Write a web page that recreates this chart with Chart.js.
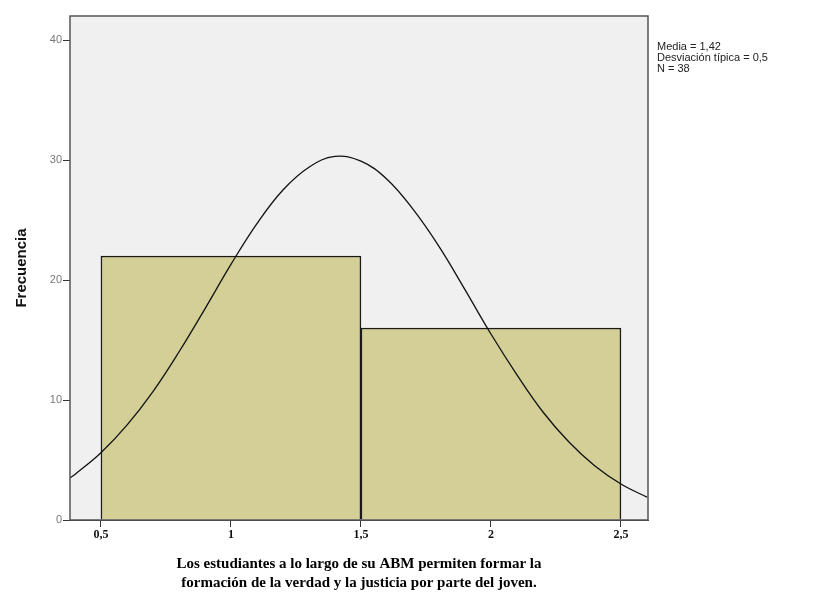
<!DOCTYPE html>
<html>
<head>
<meta charset="utf-8">
<script src="https://cdn.jsdelivr.net/npm/chart.js@4/dist/chart.umd.min.js"></script>
<style>
  body { margin: 0; background: #fff; }
  #wrap { width: 814px; height: 596px; }
</style>
</head>
<body>
<div id="wrap"><canvas id="histChart"></canvas></div>
<script>
// histogram bins (centres) and counts
const binCentres = [1, 2];
const binCounts = [22, 16];

// fitted normal curve
const curveX = [0.38, 0.4, 0.5, 0.6, 0.7, 0.8, 0.9, 1.0, 1.1, 1.2, 1.3, 1.4, 1.5,
                1.6, 1.7, 1.8, 1.9, 2.0, 2.1, 2.2, 2.3, 2.4, 2.5, 2.6];
const curveY = [3.5, 3.8, 5.6, 7.9, 10.7, 14.0, 17.6, 21.3, 24.7, 27.5, 29.4, 30.3, 29.9,
                28.4, 25.9, 22.8, 19.2, 15.5, 12.1, 9.0, 6.5, 4.5, 3.0, 1.9];

// axis ticks
const xTicks = [0.5, 1, 1.5, 2, 2.5];
const xTickLabels = ["0,5", "1", "1,5", "2", "2,5"];
const yTicks = [0, 10, 20, 30, 40];

const statsText = ["Media = 1,42", "Desviación típica = 0,5", "N = 38"];
const xTitle = ["Los estudiantes a lo largo de su ABM permiten formar la",
                "formación de la verdad y la justicia por parte del joven."];

const X_MIN = 0.381, X_MAX = 2.604;

/* plot background, frame and stats box */
const frame = {
    id: "frame",
    beforeDatasetsDraw(chart) {
        const a = chart.chartArea, ctx = chart.ctx;
        ctx.save();
        ctx.fillStyle = "#f0f0f0";
        ctx.fillRect(a.left, a.top, a.right - a.left, a.bottom - a.top);
        ctx.restore();
    },
    afterDraw(chart) {
        const a = chart.chartArea, ctx = chart.ctx;
        ctx.save();
        ctx.strokeStyle = "#555";
        ctx.lineWidth = 1.5;
        ctx.strokeRect(a.left, a.top, a.right - a.left, a.bottom - a.top);
        ctx.fillStyle = "#222";
        ctx.font = "11px 'Liberation Sans', Arial, sans-serif";
        ctx.textBaseline = "middle";
        statsText.forEach((t, i) => ctx.fillText(t, a.right + 9, 47 + i * 11));
        ctx.restore();
    }
};

new Chart(document.getElementById("histChart"), {
    data: {
        datasets: [{
            type: "line",
            xAxisID: "x",
            data: curveX.map((x, i) => ({x: x, y: curveY[i]})),
            borderColor: "#111",
            borderWidth: 1.3,
            pointRadius: 0,
            tension: 0.4,
            fill: false,
            order: 0
        }, {
            type: "bar",
            xAxisID: "xb",
            data: binCentres.map((x, i) => ({x: x, y: binCounts[i]})),
            backgroundColor: "#d3cf97",
            borderColor: "#1a1a1a",
            borderWidth: 1.5,
            grouped: false,
            barPercentage: 1,
            categoryPercentage: 1,
            order: 1
        }]
    },
    options: {
        responsive: true,
        maintainAspectRatio: false,
        animation: false,
        layout: { padding: { top: 16, right: 166, left: 0, bottom: 0 } },
        plugins: { legend: { display: false }, tooltip: { enabled: false } },
        scales: {
            x: {
                type: "linear",
                min: X_MIN, max: X_MAX,
                offset: false,
                afterBuildTicks: s => { s.ticks = xTicks.map(v => ({value: v})); },
                afterFit: s => { s.height = 76; },
                ticks: {
                    callback: (v) => xTickLabels[xTicks.indexOf(v)],
                    color: "#111",
                    font: { family: "'Liberation Serif', serif", size: 12, weight: "bold" },
                    padding: 1,
                    maxRotation: 0,
                    autoSkip: false
                },
                grid: { drawOnChartArea: false, tickLength: 7, color: "#333" },
                border: { color: "#333", width: 1 },
                title: {
                    display: true,
                    text: xTitle,
                    color: "#000",
                    font: { family: "'Liberation Serif', serif", size: 15, weight: "bold", lineHeight: 1.3 },
                    padding: { top: 0, bottom: 3 }
                }
            },
            // hidden axis for the bars: one tick per bin so each bar fills its bin
            xb: {
                type: "linear",
                display: false,
                offset: false,
                min: X_MIN, max: X_MAX,
                grid: { offset: false },
                afterBuildTicks: s => { s.ticks = binCentres.map(v => ({value: v})); }
            },
            y: {
                min: 0, max: 42,
                afterBuildTicks: s => { s.ticks = yTicks.map(v => ({value: v})); },
                afterFit: s => { s.width = 70; },
                ticks: {
                    color: "#777",
                    font: { family: "'Liberation Sans', Arial, sans-serif", size: 11 },
                    padding: 1
                },
                grid: { drawOnChartArea: false, tickLength: 7, color: "#333" },
                border: { color: "#333", width: 1 },
                title: {
                    display: true,
                    text: "Frecuencia",
                    color: "#111",
                    font: { family: "'Liberation Sans', Arial, sans-serif", size: 15, weight: "bold" },
                    padding: { top: 13, bottom: 0 }
                }
            }
        }
    },
    plugins: [frame]
});
</script>
</body>
</html>
